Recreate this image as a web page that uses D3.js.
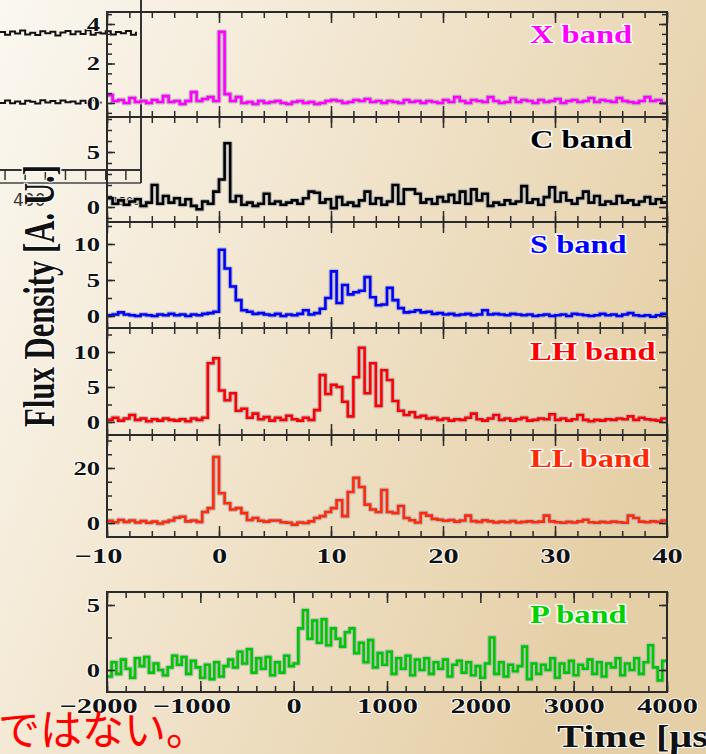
<!DOCTYPE html>
<html>
<head>
<meta charset="utf-8">
<script src="https://cdn.jsdelivr.net/npm/d3@7"></script>
<style>
html, body { margin: 0; padding: 0; overflow: hidden; background: #f3e9d6; }
</style>
</head>
<body>
<div id="chart"></div>
<script>
// bin starts (µs)
var mainBins = d3.range(-10, 40, 0.5);
var pBins = d3.range(-2000, 4000, 50);

// flux density per bin [A.U.]
var xBand = [
  0.4, 0.1, 0.15, 0.0, 0.25, 0.05, 0.1, 0.0, 0.15, 0.05,
  0.35, 0.05, 0.1, -0.05, 0.1, 0.55, 0.1, 0.2, 0.3, 0.1,
  3.6, 0.45, 0.1, 0.3, 0.0, 0.05, -0.05, 0.1, 0.0, 0.05,
  0.1, 0.0, -0.05, 0.05, 0.1, 0.0, 0.05, -0.05, 0.0, 0.1,
  0.15, 0.1, 0.0, 0.05, 0.15, 0.1, 0.2, 0.05, 0.1, 0.0,
  0.1, 0.05, 0.0, 0.15, 0.05, 0.1, 0.0, 0.1, 0.05, 0.0,
  0.15, 0.05, 0.3, 0.1, 0.0, 0.15, 0.1, 0.05, 0.3, 0.1,
  0.0, 0.05, 0.25, 0.05, 0.15, 0.1, 0.0, 0.15, 0.05, 0.1,
  0.2, 0.0, 0.1, 0.15, 0.05, 0.1, 0.25, 0.05, 0.15, 0.1,
  0.05, 0.25, 0.1, 0.05, 0.0, 0.1, 0.3, 0.1, 0.15, 0.0
];
var cBand = [
  0.8, 0.3, 0.6, 0.2, 0.5, 0.7, 0.1, 0.4, 2.0, 0.3,
  1.0, 0.4, 0.8, 0.2, 0.7, 0.1, -0.2, 0.5, 0.3, 1.4,
  2.5, 5.8, 0.5, 1.0, 0.2, 0.4, 0.1, 0.3, 1.2, 0.3,
  0.5, 0.2, 0.4, 0.6, 0.3, 0.8, 1.4, 1.3, 0.4, 0.7,
  -0.1, 0.9, 0.2, 0.4, 0.1, 0.6, 1.4, 0.3, 0.8, 0.2,
  0.5, 2.0, 0.3, 1.6, 1.6, 1.2, 0.4, 0.7, 0.3, 0.9,
  0.5, 1.1, 0.4, 1.4, 0.3, 1.6, 0.6, 1.2, 0.1, 0.4,
  0.2, 0.6, 0.3, 0.5, 1.9, 0.4, 0.7, 0.2, 0.9, 1.8,
  0.5, 1.3, 0.6, 0.3, 0.8, 1.4, 0.4, 1.0, 0.2, 0.5,
  0.3, 1.0, 0.4, 0.6, 0.2, 0.5, 0.9, 0.3, 0.7, 0.4
];
var sBand = [
  0.1, 0.2, 0.5, 0.2, 0.1, 0.0, 0.2, 0.1, 0.0, 0.2,
  0.1, 0.3, 0.1, 0.2, 0.0, 0.2, 0.1, 0.3, 0.4, 0.6,
  9.2, 6.6, 4.1, 2.2, 0.8, 0.6, 0.3, 0.4, 0.2, 0.1,
  0.3, 0.0, 0.2, 0.1, 0.3, 0.8, 0.2, 0.4, 1.0, 2.5,
  6.2, 1.8, 4.3, 3.0, 3.3, 3.5, 5.4, 2.6, 1.5, 1.6,
  3.9, 2.2, 1.1, 0.5, 0.6, 0.8, 0.5, 0.6, 0.3, 0.4,
  0.2, 0.3, 0.1, 0.2, 0.3, 0.1, 0.2, 0.8, 0.2, 0.3,
  0.2, 0.1, 0.3, 0.2, 0.1, 0.2, 0.0, 0.1, 0.2, 0.0,
  0.1, 0.2, 0.0, 0.3, 0.2, 0.1, 0.0, 0.1, 0.3, 0.1,
  0.2, 0.0, 0.2, 0.4, 0.1, 0.0, 0.1, -0.1, 0.1, 0.3
];
var lhBand = [
  0.3, 0.6, 0.2, 0.5, 1.0, 0.3, 0.5, 0.1, 0.4, 0.2,
  0.5, 0.3, 0.2, 0.4, 0.1, 0.5, 0.3, 0.6, 8.4, 9.1,
  4.5, 3.1, 4.1, 1.6, 1.9, 0.6, 1.2, 0.4, 0.7, 0.2,
  0.6, 0.3, 0.9, 0.4, 0.2, 0.6, 0.3, 1.7, 6.7, 4.0,
  5.3, 5.0, 2.9, 0.8, 6.4, 10.6, 4.1, 8.4, 2.3, 7.4,
  6.0, 3.0, 1.6, 1.0, 1.4, 0.7, 0.9, 0.5, 0.6, 0.3,
  0.5, 0.2, 0.4, 0.3, 0.6, 1.2, 0.4, 0.2, 0.5, 1.0,
  0.3, 0.5, 0.2, 0.4, 0.6, 0.2, 0.3, 0.5, 0.4, 1.1,
  0.3, 0.5, 0.2, 0.4, 1.0, 0.3, 0.1, 0.3, 0.2, 0.4,
  0.3, 0.5, 0.4, 0.8, 0.3, 0.6, 0.4, 0.3, 0.2, 0.5
];
var llBand = [
  0.8, 0.3, 1.1, 0.4, 0.9, 0.2, 0.7, 0.1, 0.5, -0.2,
  0.4, 0.9, 1.9, 2.3, 0.6, 0.9, 0.4, 4.0, 5.4, 24.0,
  10.8, 7.2, 4.9, 5.4, 3.6, 1.1, 1.8, 0.8, 0.5, 0.9,
  0.9, 0.3, 0.1, -0.6, 0.2, 0.0, 0.6, 1.8, 2.5, 4.0,
  5.4, 8.3, 2.5, 11.3, 16.4, 13.1, 6.7, 4.9, 4.0, 12.0,
  4.0, 3.6, 6.2, 1.8, 1.0, 0.2, 3.6, 2.7, 1.5, 1.2,
  0.8, 1.1, 0.5, 0.9, 2.7, 0.7, 0.4, 1.0, 0.6, 0.2,
  0.5, 0.3, 0.7, 0.2, 0.4, 0.6, 0.3, 0.5, 2.7, 0.6,
  0.3, 0.1, 0.4, 0.2, 0.6, 1.2, 0.3, 0.1, 0.4, 0.2,
  0.5, 0.3, 0.1, 2.7, 1.8, 0.5, 0.3, 0.6, 0.4, 0.9
];
var pBand = [
  -0.5, 0.6, -0.3, 0.8, 0.1, -0.6, 0.9, 0.3, 1.0, -0.2,
  0.5, 0.0, -0.4, 0.2, 1.1, 0.4, 1.0, -0.3, 0.7, 0.2,
  -0.6, 0.4, -0.7, 0.6, -0.5, 0.3, 0.8, 0.2, 1.4, 0.5,
  1.6, -0.2, 0.9, 0.1, 1.0, -0.4, 0.6, -0.2, 1.1, 0.3,
  0.5, 3.2, 4.6, 2.4, 3.8, 2.1, 3.9, 1.9, 3.2, 2.4,
  1.8, 2.9, 3.2, 1.3, 2.1, 0.6, 2.3, 0.2, 1.3, 0.4,
  1.4, -0.3, 0.9, 0.1, 1.1, -0.4, 0.8, 0.0, 0.9, -0.3,
  0.6, 0.1, 0.8, -0.5, 0.4, 0.7, -0.2, 0.6, -0.4, 0.3,
  -0.6, 0.5, 2.5, -0.3, 0.6, -0.5, 0.4, -0.1, 0.3, 1.8,
  -0.7, 0.5, -0.3, 0.4, 0.0, 0.9, -0.6, 0.5, -0.2, 0.7,
  -0.4, 0.4, 0.1, 0.8, -0.3, 0.6, -0.5, 0.5, 0.2, 0.9,
  -0.4, 0.5, 0.0, 0.9, -0.3, 0.6, 1.9, 0.2, -0.8, 0.7
];

// tick values
var mainMajor = [-10, 0, 10, 20, 30, 40];
var mainMinor = d3.range(-10, 41, 2);
var pMajor = [-2000, -1000, 0, 1000, 2000, 3000, 4000];
var pMinor = d3.range(-2000, 4001, 200);

// the piece of another plot lying over the top-left corner
var insetTop = [0.3, -0.6, 0.5, -0.2, 0.8, -0.5, 0.1, -0.7, 0.6, -0.1, 0.4, -0.8, 0.2, 0.7,
                -0.4, 0.5, -0.3, 0.9, -0.6, 0.2, -0.2, 0.6, -0.5, 0.3, -0.1, 0.7, -0.6, 0.4];
var insetBottom = [-0.3, 0.5, -0.4, 0.2, -0.6, 0.4, 0.1, -0.5, 0.6, -0.2, 0.3, -0.4, 0.5, -0.1,
                   0.2, -0.5, 0.4, -0.3, 0.6, -0.2, 0.1];
var insetTicks = [1, 5, 9, 13, 17, 21, 25];

var W = 706, H = 754;
var SERIF = "'Liberation Serif', 'Times New Roman', serif";

var svg = d3.select("#chart").append("svg")
    .attr("width", W)
    .attr("height", H);

var grad = svg.append("defs").append("linearGradient")
    .attr("id", "bg")
    .attr("x1", 0).attr("y1", 0).attr("x2", 1).attr("y2", 0.45);
grad.append("stop").attr("offset", "0%").attr("stop-color", "#fbf8f1");
grad.append("stop").attr("offset", "50%").attr("stop-color", "#f1e4cc");
grad.append("stop").attr("offset", "100%").attr("stop-color", "#e5cfa6");

svg.append("rect").attr("width", W).attr("height", H).attr("fill", "url(#bg)");

// squeeze/stretch text horizontally like the slide picture
function stretch(sel, k) {
    sel.each(function() {
        var w = this.getComputedTextLength();
        d3.select(this)
            .attr("textLength", w * k)
            .attr("lengthAdjust", "spacingAndGlyphs");
    });
}

function halo(sel, w) {
    sel.attr("stroke", "#ffffff")
        .attr("stroke-width", w)
        .attr("stroke-linejoin", "round")
        .attr("paint-order", "stroke");
}

// inset leftovers
var xi = d3.scaleLinear().domain([0, 28]).range([0, 141]);
var yiTop = d3.scaleLinear().domain([-1, 1]).range([36, 30]);
var yiBot = d3.scaleLinear().domain([-1, 1]).range([105, 99]);
var inset = svg.append("g").attr("class", "inset");
inset.append("path")
    .attr("d", d3.line().x(function(d, i) { return xi(i); }).y(function(d) { return yiTop(d); })
        .curve(d3.curveStepAfter)(insetTop))
    .attr("fill", "none").attr("stroke", "#111").attr("stroke-width", 2);
inset.append("path")
    .attr("d", d3.line().x(function(d, i) { return xi(i); }).y(function(d) { return yiBot(d); })
        .curve(d3.curveStepAfter)(insetBottom))
    .attr("fill", "none").attr("stroke", "#111").attr("stroke-width", 2);
inset.append("line").attr("x1", 141).attr("x2", 141).attr("y1", 0).attr("y2", 183)
    .attr("stroke", "#333").attr("stroke-width", 2);
inset.append("line").attr("x1", 0).attr("x2", 141).attr("y1", 170).attr("y2", 170)
    .attr("stroke", "#333").attr("stroke-width", 2);
inset.append("line").attr("x1", 0).attr("x2", 141).attr("y1", 183).attr("y2", 183)
    .attr("stroke", "#444").attr("stroke-width", 1.5);
inset.selectAll(".itick").data(insetTicks).enter().append("line")
    .attr("x1", function(d) { return xi(d); }).attr("x2", function(d) { return xi(d); })
    .attr("y1", 170).attr("y2", 180)
    .attr("stroke", "#333").attr("stroke-width", 1.5);
inset.append("text").attr("x", 13).attr("y", 206).text("400")
    .attr("font-family", "'DejaVu Sans', sans-serif").attr("font-size", 17).attr("fill", "#333");
inset.append("text").attr("x", 112).attr("y", 205).text("1500")
    .attr("font-family", "'DejaVu Sans', sans-serif").attr("font-size", 11).attr("fill", "#222");

// panel layout
var panels = [
    { label: "X band", color: "#ff00ff", text: "#ff00ff", values: xBand,
      top: 12, bottom: 117, zeroY: 103, ref: 4, refY: 24, major: [0, 2, 4], minor: 0.5, labelY: 43 },
    { label: "C band", color: "#000000", text: "#000000", values: cBand,
      top: 117, bottom: 222, zeroY: 207, ref: 5, refY: 152, major: [0, 5], minor: 1, labelY: 148 },
    { label: "S band", color: "#0000ff", text: "#0000ff", values: sBand,
      top: 222, bottom: 328, zeroY: 316, ref: 10, refY: 244, major: [0, 5, 10], minor: 2.5, labelY: 253 },
    { label: "LH band", color: "#ff0000", text: "#ff0000", values: lhBand,
      top: 328, bottom: 435, zeroY: 422, ref: 10, refY: 352, major: [0, 5, 10], minor: 2.5, labelY: 360 },
    { label: "LL band", color: "#ff2a0a", text: "#ff2a00", values: llBand,
      top: 435, bottom: 537, zeroY: 523, ref: 20, refY: 468, major: [0, 20], minor: 5, labelY: 467 }
];
var pPanel = { label: "P band", color: "#00c800", text: "#00d200", values: pBand,
      top: 592, bottom: 692, zeroY: 670, ref: 5, refY: 605, major: [0, 5], minor: 2.5, labelY: 623 };

var x = d3.scaleLinear().domain([-10, 40]).range([107, 667]);
var xp = d3.scaleLinear().domain([-2000, 4000]).range([107, 667]);

function noDomain(g) { g.select(".domain").remove(); }

function drawPanel(p, xs, bins, xEnd, xMajor, xMinor, xLabels) {
    var y = d3.scaleLinear().domain([0, p.ref]).range([p.zeroY, p.refY]);
    var lo = y.invert(p.bottom), hi = y.invert(p.top);
    var x0 = xs.range()[0], x1 = xs.range()[1];
    var g = svg.append("g");

    var pts = p.values.map(function(v, i) { return [bins[i], v]; });
    pts.push([xEnd, p.values[p.values.length - 1]]);
    var line = d3.line()
        .x(function(d) { return xs(d[0]); })
        .y(function(d) { return y(d[1]); })
        .curve(d3.curveStepAfter);
    g.append("path").attr("d", line(pts))
        .attr("fill", "none").attr("stroke", "#b9b9b9").attr("stroke-opacity", 0.9)
        .attr("stroke-width", 5).attr("stroke-linejoin", "round");
    g.append("path").attr("d", line(pts))
        .attr("fill", "none").attr("stroke", p.color)
        .attr("stroke-width", 2.6).attr("stroke-linejoin", "miter");

    // ticks
    var yMinor = d3.range(Math.ceil(lo / p.minor) * p.minor, hi, p.minor);
    var ax = g.append("g").attr("color", "#2a2a2a").attr("stroke-width", 1.5);
    ax.append("g").attr("transform", "translate(" + x0 + ",0)")
        .call(d3.axisLeft(y).tickValues(yMinor).tickSize(-5).tickFormat("")).call(noDomain);
    ax.append("g").attr("transform", "translate(" + x1 + ",0)")
        .call(d3.axisRight(y).tickValues(yMinor).tickSize(-5).tickFormat("")).call(noDomain);
    ax.append("g").attr("transform", "translate(" + x1 + ",0)")
        .call(d3.axisRight(y).tickValues(p.major).tickSize(-8).tickFormat("")).call(noDomain);
    ax.append("g").attr("transform", "translate(0," + p.top + ")")
        .call(d3.axisTop(xs).tickValues(xMinor).tickSize(-6).tickFormat("")).call(noDomain);
    ax.append("g").attr("transform", "translate(0," + p.top + ")")
        .call(d3.axisTop(xs).tickValues(xMajor).tickSize(-11).tickFormat("")).call(noDomain);
    ax.append("g").attr("transform", "translate(0," + p.bottom + ")")
        .call(d3.axisBottom(xs).tickValues(xMinor).tickSize(-6).tickFormat("")).call(noDomain);

    var yl = ax.append("g").attr("transform", "translate(" + x0 + ",0)")
        .call(d3.axisLeft(y).tickValues(p.major).tickSize(-8).tickPadding(7).tickFormat(d3.format("d")))
        .call(noDomain)
        .attr("font-family", SERIF).attr("font-size", 19).attr("font-weight", "bold");
    yl.selectAll("text").attr("fill", "#111").call(halo, 1.6).call(stretch, 1.4);

    var xl = ax.append("g").attr("transform", "translate(0," + p.bottom + ")")
        .call(d3.axisBottom(xs).tickValues(xMajor).tickSize(-11)
            .tickPadding(xLabels ? xLabels.pad : 0)
            .tickFormat(xLabels ? d3.format("d") : ""))
        .call(noDomain)
        .attr("font-family", SERIF).attr("font-size", 21).attr("font-weight", "bold");
    if (xLabels) {
        xl.selectAll("text").attr("fill", "#111").call(halo, 1.6).call(stretch, 1.45)
            .attr("x", function(d) { return d < 0 ? -9 : 0; });
    }

    g.append("rect")
        .attr("x", x0).attr("y", p.top)
        .attr("width", x1 - x0).attr("height", p.bottom - p.top)
        .attr("fill", "none").attr("stroke", "#2a2a2a").attr("stroke-width", 2);

    g.append("text")
        .attr("x", 530).attr("y", p.labelY)
        .text(p.label)
        .attr("font-family", SERIF).attr("font-size", 25).attr("font-weight", "bold")
        .attr("fill", p.text)
        .call(halo, 2.6)
        .call(stretch, 1.3);
}

panels.forEach(function(p, i) {
    var last = i === panels.length - 1;
    drawPanel(p, x, mainBins, 40, mainMajor, mainMinor, last ? { pad: 11 } : null);
});
drawPanel(pPanel, xp, pBins, 4000, pMajor, pMinor, { pad: 6 });

// axis titles
svg.append("text")
    .attr("transform", "translate(54,296) scale(1.4,1) rotate(-90)")
    .attr("text-anchor", "middle")
    .attr("font-family", SERIF).attr("font-size", 32).attr("font-weight", "bold")
    .attr("fill", "#111")
    .attr("textLength", 262).attr("lengthAdjust", "spacingAndGlyphs")
    .call(halo, 1.8)
    .text("Flux Density [A. U.]");

svg.append("text")
    .attr("x", 557).attr("y", 747)
    .attr("font-family", SERIF).attr("font-size", 31).attr("font-weight", "bold")
    .attr("fill", "#111")
    .call(halo, 1.8)
    .text("Time [\u03bcs]")
    .call(stretch, 1.3);

svg.append("text")
    .attr("x", -2).attr("y", 745)
    .attr("font-family", "'Noto Sans CJK JP', sans-serif").attr("font-size", 42)
    .attr("fill", "#ff0000")
    .text("ではない。");
</script>
</body>
</html>
